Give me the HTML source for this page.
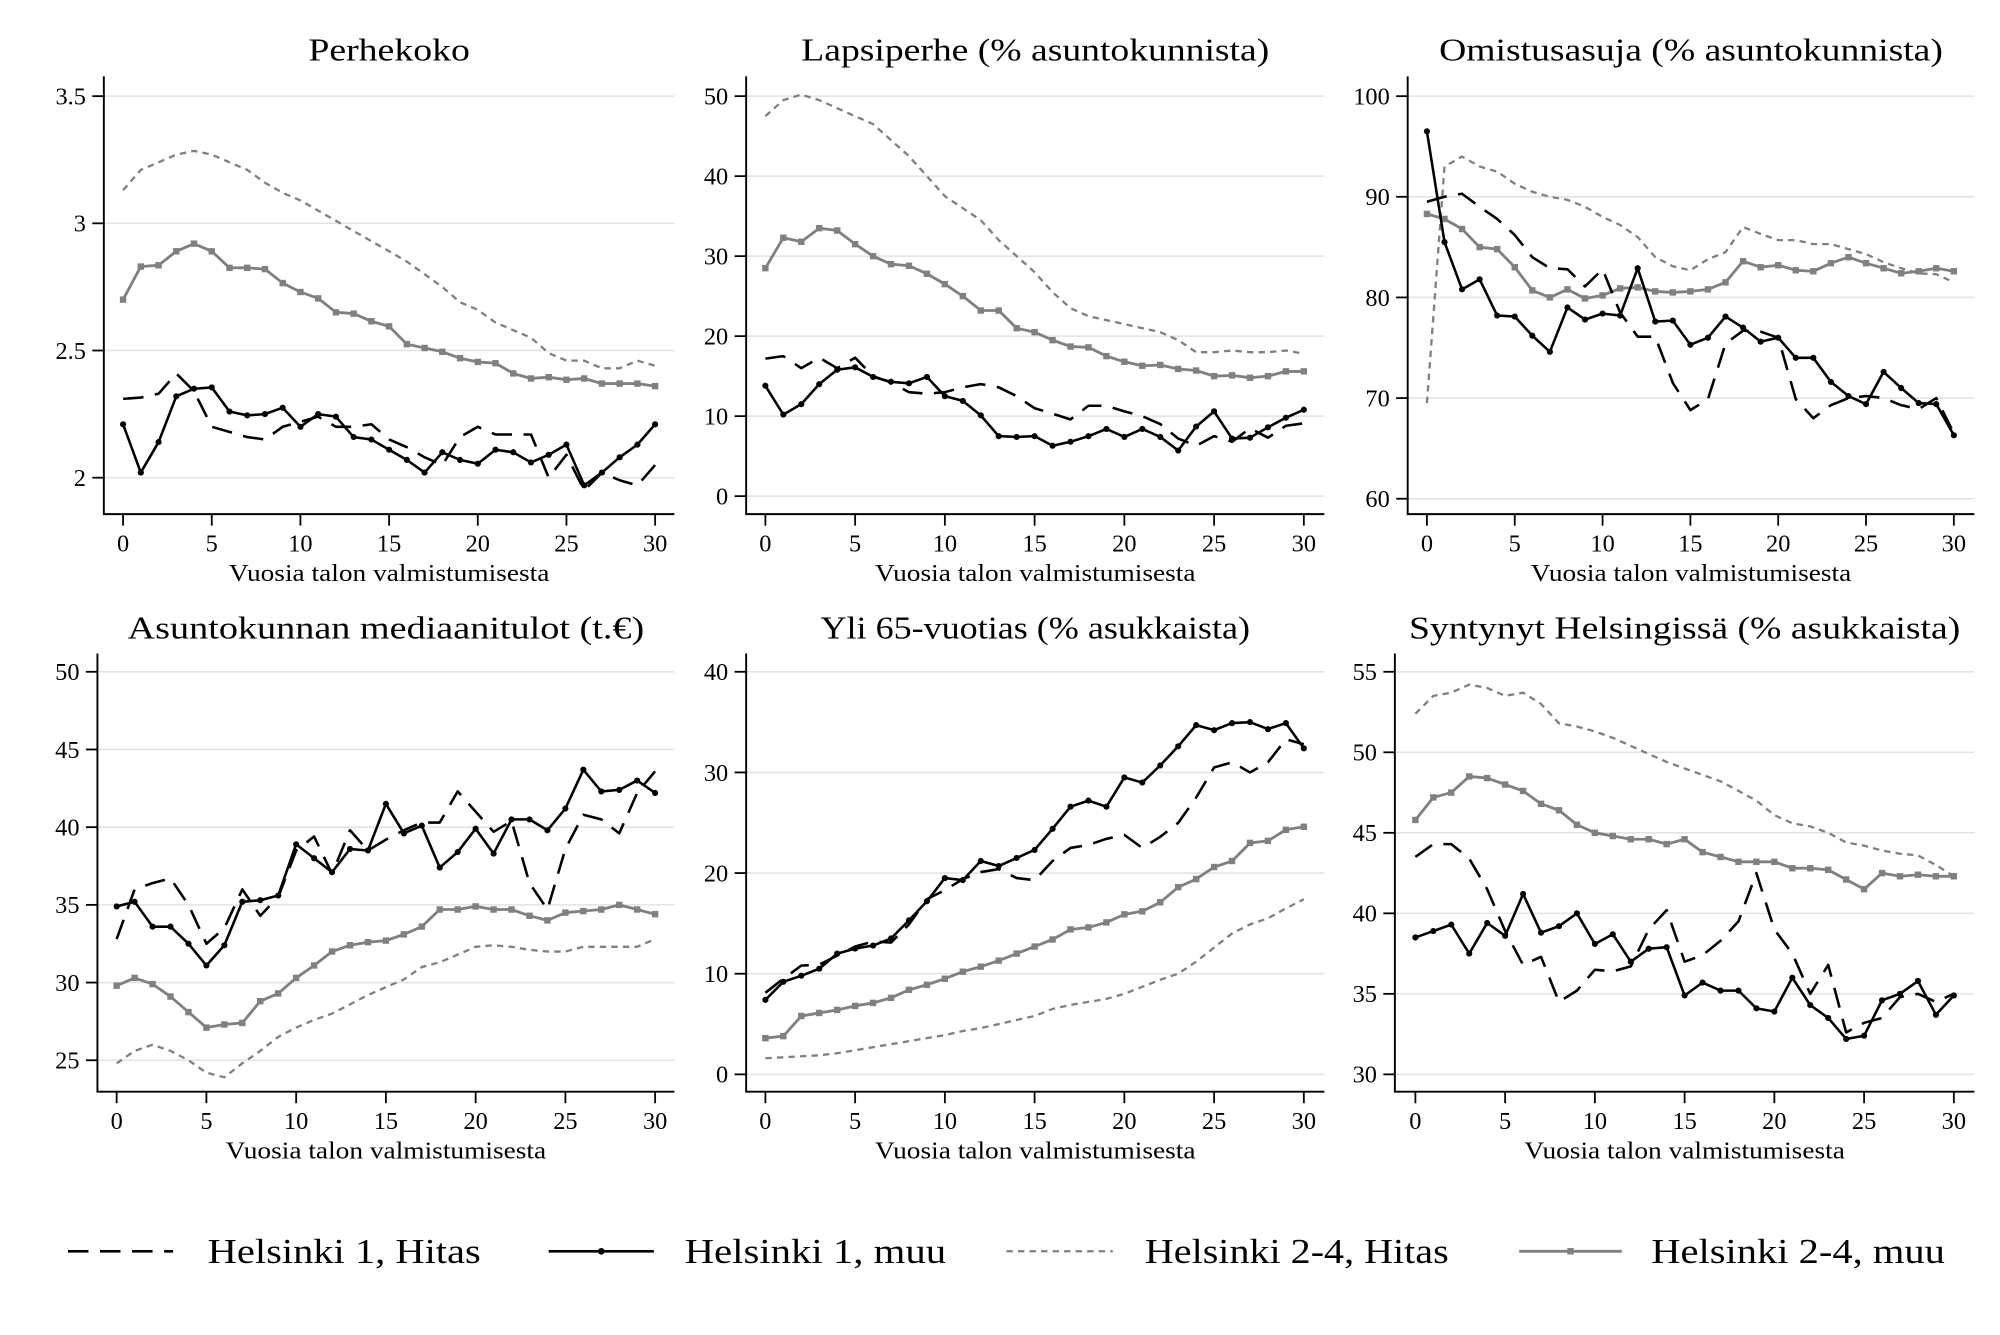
<!DOCTYPE html>
<html><head><meta charset="utf-8">
<style>html,body{margin:0;padding:0;background:#fff}svg{display:block}</style>
</head><body>
<svg id="s" width="2000" height="1335" viewBox="0 0 1560 1041.3" xmlns="http://www.w3.org/2000/svg" font-family="'Liberation Serif', serif"></svg>
<script>
var P=[
{t:"Perhekoko",tw:126,ax:81,ar:526,x0:96,x30:511,top:59.6,bot:401,tb:47,ticks:[2,2.5,3,3.5],lab:["2","2.5","3","3.5"],v0:2,p0:372.6,v1:3.5,p1:75,
d:[[2.31,2.315,2.33,2.41,2.34,2.2,2.18,2.16,2.15,2.2,2.22,2.24,2.2,2.2,2.21,2.15,2.12,2.08,2.05,2.16,2.2,2.17,2.17,2.17,2.0,2.09,1.95,2.02,1.99,1.97,2.05],
[2.21,2.02,2.14,2.32,2.35,2.355,2.26,2.245,2.25,2.275,2.2,2.25,2.24,2.16,2.15,2.11,2.07,2.02,2.1,2.07,2.055,2.11,2.1,2.06,2.09,2.13,1.97,2.02,2.08,2.13,2.21],
[3.13,3.21,3.24,3.27,3.285,3.27,3.24,3.21,3.16,3.12,3.09,3.05,3.01,2.97,2.93,2.89,2.85,2.8,2.75,2.69,2.66,2.61,2.58,2.55,2.49,2.46,2.46,2.43,2.43,2.46,2.44],
[2.70,2.83,2.835,2.89,2.92,2.89,2.825,2.825,2.82,2.765,2.73,2.705,2.65,2.645,2.615,2.595,2.525,2.51,2.495,2.47,2.455,2.45,2.41,2.39,2.395,2.385,2.39,2.37,2.37,2.37,2.36]]},
{t:"Lapsiperhe (% asuntokunnista)",tw:365,ax:582,ar:1033,x0:597,x30:1017,top:59.6,bot:401,tb:47,ticks:[0,10,20,30,40,50],v0:0,p0:387,v1:50,p1:75,
d:[[17.2,17.5,16,17.3,16,17.3,15,14.2,13,12.8,13,13.6,14,13.6,12.5,11,10.3,9.6,11.3,11.3,10.6,10,9,7.2,6.3,7.5,6.8,8.5,7.3,8.8,9.1],
[13.8,10.2,11.5,14,15.8,16.1,14.9,14.3,14.1,14.9,12.5,11.9,10.1,7.5,7.4,7.5,6.3,6.8,7.5,8.4,7.4,8.4,7.4,5.7,8.7,10.6,7.2,7.3,8.6,9.8,10.8],
[47.5,49.5,50.2,49.5,48.5,47.5,46.5,44.5,42.5,40,37.5,36,34.5,32,30,28,25.5,23.5,22.5,22,21.5,21,20.5,19.5,18,18,18.2,18,18,18.2,17.8],
[28.5,32.3,31.8,33.5,33.2,31.5,30,29,28.8,27.8,26.5,25,23.2,23.2,21,20.5,19.5,18.7,18.6,17.5,16.8,16.3,16.4,15.9,15.7,15,15.1,14.8,15,15.6,15.6]]},
{t:"Omistusasuja (% asuntokunnista)",tw:393,ax:1098,ar:1540,x0:1113,x30:1524,top:59.6,bot:401,tb:47,ticks:[60,70,80,90,100],v0:60,p0:389,v1:100,p1:75,
d:[[89.5,90,90.3,89,87.8,86.2,84,82.9,82.8,81.1,82.8,78.5,76.1,76.1,71.5,68.8,69.9,75.4,76.7,76.6,76,69.9,68,69.3,70,70.2,70,69.3,68.9,70,66.5],
[96.5,85.5,80.8,81.8,78.2,78.1,76.2,74.6,79,77.8,78.4,78.2,82.9,77.6,77.7,75.3,76,78.1,77,75.6,76,74,74,71.6,70.2,69.4,72.6,71,69.5,69.4,66.3],
[69.5,93,94,93,92.5,91.3,90.5,90,89.7,89,88,87.2,86,84,83.1,82.7,83.8,84.5,87,86.3,85.7,85.7,85.3,85.3,84.8,84.3,83.5,82.9,82.4,82.3,81.5],
[88.3,87.8,86.8,85,84.8,83,80.7,80,80.8,79.9,80.2,80.9,81,80.6,80.5,80.6,80.8,81.5,83.6,83,83.2,82.7,82.6,83.4,84,83.4,82.9,82.4,82.6,82.9,82.6]]},
{t:"Asuntokunnan mediaanitulot (t.€)",tw:403,ax:76,ar:526,x0:91,x30:511,top:509.7,bot:851.5,tb:498,ticks:[25,30,35,40,45,50],v0:25,p0:827,v1:50,p1:524,
d:[[32.8,36,36.4,36.7,35,32.5,33.5,36,34.3,35.5,38.5,39.4,37,39.8,38.5,39.2,39.8,40.3,40.3,42.3,41,39.7,40.4,36.4,34.7,38.6,40.8,40.5,39.6,42.2,43.6],
[34.9,35.2,33.6,33.6,32.5,31.1,32.4,35.2,35.3,35.6,38.9,38,37.1,38.6,38.5,41.5,39.6,40.1,37.4,38.4,39.9,38.3,40.5,40.5,39.8,41.2,43.7,42.3,42.4,43,42.2],
[24.8,25.6,26,25.6,25,24.2,23.9,24.8,25.6,26.5,27.1,27.6,28,28.6,29.2,29.7,30.2,31,31.3,31.8,32.3,32.4,32.3,32.1,32,32,32.3,32.3,32.3,32.3,32.8],
[29.8,30.3,29.9,29.1,28.1,27.1,27.3,27.4,28.8,29.3,30.3,31.1,32,32.4,32.6,32.7,33.1,33.6,34.7,34.7,34.9,34.7,34.7,34.3,34,34.5,34.6,34.7,35,34.7,34.4]]},
{t:"Yli 65-vuotias (% asukkaista)",tw:335,ax:582,ar:1033,x0:597,x30:1017,top:509.7,bot:851.5,tb:498,ticks:[0,10,20,30,40],v0:0,p0:838,v1:40,p1:524,
d:[[8.1,9.5,10.8,10.9,11.8,12.7,13.2,13.1,14.9,17.4,18.3,19.4,20.1,20.4,19.5,19.3,21.2,22.5,22.8,23.4,23.8,22.5,23.6,25,27.5,30.5,31,30,31,33.3,32.8],
[7.4,9.2,9.8,10.5,12,12.5,12.8,13.5,15.3,17.2,19.5,19.3,21.2,20.7,21.5,22.3,24.4,26.6,27.2,26.6,29.5,29,30.7,32.6,34.7,34.2,34.9,35,34.3,34.9,32.4],
[1.6,1.7,1.8,1.9,2.1,2.4,2.7,3.0,3.3,3.6,3.9,4.3,4.6,5.0,5.4,5.8,6.5,6.9,7.2,7.5,8,8.7,9.4,10,11.2,12.6,14,14.9,15.5,16.5,17.4],
[3.6,3.8,5.8,6.1,6.4,6.8,7.1,7.6,8.4,8.9,9.5,10.2,10.7,11.3,12,12.7,13.4,14.4,14.6,15.1,15.9,16.2,17.1,18.6,19.4,20.6,21.2,23,23.2,24.3,24.6]]},
{t:"Syntynyt Helsingissä (% asukkaista)",tw:430,ax:1088,ar:1540,x0:1104,x30:1524,top:509.7,bot:851.5,tb:498,ticks:[30,35,40,45,50,55],v0:30,p0:838,v1:55,p1:524,
d:[[43.5,44.3,44.3,43.4,41.5,38.9,36.8,37.3,34.5,35.2,36.5,36.4,36.7,39,40.2,37,37.4,38.3,39.5,42.5,39,37.5,35,36.8,32.6,33.2,33.5,34.8,35,34.5,35],
[38.5,38.9,39.3,37.5,39.4,38.6,41.2,38.8,39.2,40,38.1,38.7,37,37.8,37.9,34.9,35.7,35.2,35.2,34.1,33.9,36,34.3,33.5,32.2,32.4,34.6,35,35.8,33.7,34.9],
[52.4,53.5,53.7,54.2,54,53.5,53.7,53,51.8,51.6,51.3,50.9,50.4,49.9,49.4,49,48.6,48.2,47.6,47,46.1,45.6,45.4,45,44.4,44.2,43.9,43.7,43.6,43,42.3],
[45.8,47.2,47.5,48.5,48.4,48,47.6,46.8,46.4,45.5,45,44.8,44.6,44.6,44.3,44.6,43.8,43.5,43.2,43.2,43.2,42.8,42.8,42.7,42.1,41.5,42.5,42.3,42.4,42.3,42.3]]}
];
var G="#808080",h="";
P.forEach(function(p){
 function X(i){return p.x0+(p.x30-p.x0)*i/30}
 function Y(v){return p.p0+(v-p.v0)*(p.p1-p.p0)/(p.v1-p.v0)}
 var cx=(p.ax+p.ar)/2;
 h+='<text x="'+cx+'" y="'+p.tb+'" font-size="25" text-anchor="middle" textLength="'+p.tw+'" lengthAdjust="spacingAndGlyphs">'+p.t+'</text>';
 p.ticks.forEach(function(v,k){var y=Y(v);
  h+='<line x1="'+p.ax+'" x2="'+p.ar+'" y1="'+y+'" y2="'+y+'" stroke="#e3e3e3" stroke-width="1.2"/>';
  h+='<line x1="'+(p.ax-9)+'" x2="'+p.ax+'" y1="'+y+'" y2="'+y+'" stroke="#000" stroke-width="1.4"/>';
  h+='<text x="'+(p.ax-14)+'" y="'+(y+6.5)+'" font-size="19" text-anchor="end">'+(p.lab?p.lab[k]:v)+'</text>';});
 for(var t=0;t<=30;t+=5){var x=X(t);
  h+='<line x1="'+x+'" x2="'+x+'" y1="'+p.bot+'" y2="'+(p.bot+9)+'" stroke="#000" stroke-width="1.4"/>';
  h+='<text x="'+x+'" y="'+(p.bot+29)+'" font-size="19" text-anchor="middle">'+t+'</text>';}
 h+='<text x="'+cx+'" y="'+(p.bot+52)+'" font-size="19" text-anchor="middle" textLength="250" lengthAdjust="spacingAndGlyphs">Vuosia talon valmistumisesta</text>';
 h+='<path d="M'+p.ax+' '+p.top+'V'+p.bot+'H'+p.ar+'" fill="none" stroke="#000" stroke-width="1.5"/>';
 var st=[['#000',2,'16 9'],['#000',2,''],[G,1.8,'5 4'],[G,2.2,'']];
 [2,3,0,1].forEach(function(s){
  var pts=p.d[s].map(function(v,i){return X(i).toFixed(1)+','+Y(v).toFixed(1)}).join(' ');
  h+='<polyline points="'+pts+'" fill="none" stroke="'+st[s][0]+'" stroke-width="'+st[s][1]+'"'+(st[s][2]?' stroke-dasharray="'+st[s][2]+'"':'')+' stroke-linejoin="round"/>';
  if(s==1)p.d[s].forEach(function(v,i){h+='<circle cx="'+X(i)+'" cy="'+Y(v)+'" r="2.4" fill="#000"/>'});
  if(s==3)p.d[s].forEach(function(v,i){h+='<rect x="'+(X(i)-2.5)+'" y="'+(Y(v)-2.5)+'" width="5" height="5" fill="'+G+'"/>'});
 });
});
var L=976;
h+='<line x1="53" x2="135" y1="'+L+'" y2="'+L+'" stroke="#000" stroke-width="2" stroke-dasharray="16 9"/>';
h+='<line x1="428" x2="510" y1="'+L+'" y2="'+L+'" stroke="#000" stroke-width="2"/><circle cx="469" cy="'+L+'" r="2.6"/>';
h+='<line x1="785" x2="868" y1="'+L+'" y2="'+L+'" stroke="'+G+'" stroke-width="1.8" stroke-dasharray="5 4"/>';
h+='<line x1="1185" x2="1265" y1="'+L+'" y2="'+L+'" stroke="'+G+'" stroke-width="2.2"/><rect x="1222.5" y="'+(L-2.5)+'" width="5" height="5" fill="'+G+'"/>';
[[162,213,"Helsinki 1, Hitas"],[534,204,"Helsinki 1, muu"],[893,237,"Helsinki 2-4, Hitas"],[1288,229,"Helsinki 2-4, muu"]].forEach(function(a){
 h+='<text x="'+a[0]+'" y="'+(L+9)+'" font-size="27" textLength="'+a[1]+'" lengthAdjust="spacingAndGlyphs">'+a[2]+'</text>';});
document.getElementById('s').innerHTML=h;
</script>
</body></html>
